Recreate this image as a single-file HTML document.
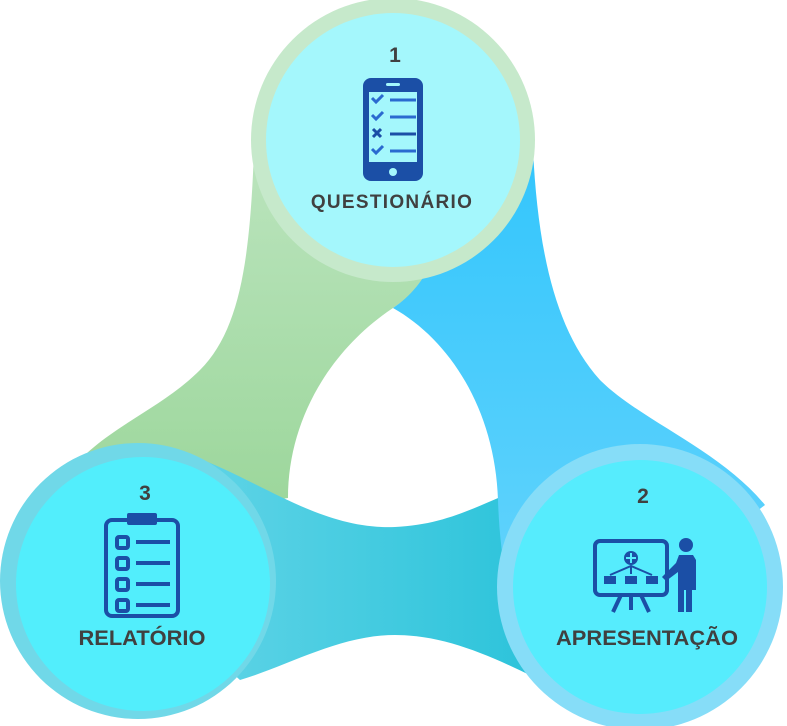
<!DOCTYPE html>
<html><head><meta charset="utf-8"><style>
html,body{margin:0;padding:0;background:#fff;}
svg{display:block}
text{font-family:"Liberation Sans",Arial,sans-serif;font-weight:bold;fill:#404040;}
</style></head><body>
<svg width="787" height="726" viewBox="0 0 787 726" xmlns="http://www.w3.org/2000/svg">
<defs>
<linearGradient id="gG" x1="0" y1="0" x2="0" y2="1"><stop offset="0" stop-color="#bfe6c2"/><stop offset="1" stop-color="#9bd69a"/></linearGradient>
<linearGradient id="gB" x1="0" y1="0" x2="0" y2="1"><stop offset="0" stop-color="#2ec4fc"/><stop offset="1" stop-color="#6cd6fc"/></linearGradient>
<linearGradient id="gT" x1="0" y1="0" x2="1" y2="0"><stop offset="0" stop-color="#66d6e8"/><stop offset="1" stop-color="#22c0d8"/></linearGradient>
</defs>
<!-- green band -->
<path d="M320,100 L254,150 C250,260 240,330 200,370 C160,410 110,425 70,470 L150,520 L288,498 C288,420 330,350 393,308 C420,290 450,260 470,200 Z" fill="url(#gG)"/>
<!-- teal band -->
<path d="M150,480 L190,455 C260,480 320,530 395,527 C440,525 470,510 505,495 L600,600 L560,690 C500,660 450,635 395,635 C340,635 290,665 240,680 L150,600 Z" fill="url(#gT)"/>
<!-- blue band -->
<path d="M470,100 L533,150 C538,250 555,330 600,380 C640,420 720,450 765,505 L640,600 L560,690 C510,640 500,560 498,500 C495,410 450,340 393,308 C420,290 440,260 450,200 Z" fill="url(#gB)"/>
<!-- circles -->
<circle cx="393" cy="140" r="142" fill="#c6e9cb"/>
<circle cx="393" cy="140" r="127" fill="#a4f7fc"/>
<circle cx="138" cy="581" r="138" fill="#70d8e8"/>
<circle cx="143" cy="584" r="127" fill="#52eefc"/>
<circle cx="640" cy="587" r="143" fill="#86ddf8"/>
<circle cx="640" cy="587" r="127" fill="#56ecfd"/>
<!-- texts -->
<text x="395" y="62" font-size="21" text-anchor="middle">1</text>
<text x="392" y="208" font-size="19" letter-spacing="1.3" text-anchor="middle">QUESTIONÁRIO</text>
<text x="145" y="500" font-size="21" text-anchor="middle">3</text>
<text x="142" y="645" font-size="21" text-anchor="middle" textLength="127" lengthAdjust="spacingAndGlyphs">RELATÓRIO</text>
<text x="643" y="503" font-size="21" text-anchor="middle">2</text>
<text x="647" y="645" font-size="21" text-anchor="middle" textLength="182" lengthAdjust="spacingAndGlyphs">APRESENTAÇÃO</text>
<!-- phone icon -->
<g fill="#1b4fa6" stroke="none">
<rect x="363" y="78" width="60" height="103" rx="8"/>
<rect x="369" y="92" width="48" height="70" fill="#a4f7fc"/>
<rect x="386" y="83" width="14" height="3" rx="1.5" fill="#a4f7fc"/>
<circle cx="393" cy="172" r="4" fill="#a4f7fc"/>
<g stroke="#2a6ad0" stroke-width="3" fill="none">
<path d="M372,98 l4,4 l7,-7"/><path d="M372,115 l4,4 l7,-7"/><path d="M372,149 l4,4 l7,-7"/>
<path d="M373,129 l8,8 M381,129 l-8,8" stroke="#1b4fa6"/>
<line x1="390" y1="100" x2="416" y2="100"/><line x1="390" y1="117" x2="416" y2="117"/><line x1="390" y1="134" x2="416" y2="134" stroke="#1b4fa6"/><line x1="390" y1="151" x2="416" y2="151"/>
</g></g>
<!-- clipboard icon -->
<g fill="none" stroke="#1b4fa6" stroke-width="4">
<rect x="106" y="520" width="72" height="96" rx="6"/>
<rect x="117" y="537" width="11" height="11" rx="2"/><rect x="117" y="558" width="11" height="11" rx="2"/><rect x="117" y="579" width="11" height="11" rx="2"/><rect x="117" y="600" width="11" height="11" rx="2"/>
<line x1="136" y1="542" x2="170" y2="542"/><line x1="136" y1="563" x2="170" y2="563"/><line x1="136" y1="584" x2="170" y2="584"/><line x1="136" y1="605" x2="170" y2="605"/>
</g>
<rect x="127" y="513" width="30" height="12" rx="2" fill="#1b4fa6"/>
<!-- presentation icon -->
<g fill="none" stroke="#1b4fa6" stroke-width="4">
<rect x="595" y="541" width="72" height="54" rx="5"/>
<path d="M621,595 l-8,17 M641,595 l8,17 M631,595 v15"/>
<path d="M631,566 v8 M610,575 l21,-9 l21,9" stroke-width="2"/>
</g>
<g fill="#1b4fa6">
<circle cx="631" cy="558" r="7"/>
<rect x="604" y="576" width="12" height="8"/><rect x="625" y="576" width="12" height="8"/><rect x="646" y="576" width="12" height="8"/>
<circle cx="686" cy="545" r="7"/>
<path d="M679,555 h14 l3,5 v30 h-4 v22 h-6 v-22 h-2 v22 h-6 v-40 l-12,9 l-4,-4 l14,-14 z"/>
</g>
<path d="M626,558 h10 M631,553 v10" stroke="#56ecfd" stroke-width="2"/>
</svg>
</body></html>
